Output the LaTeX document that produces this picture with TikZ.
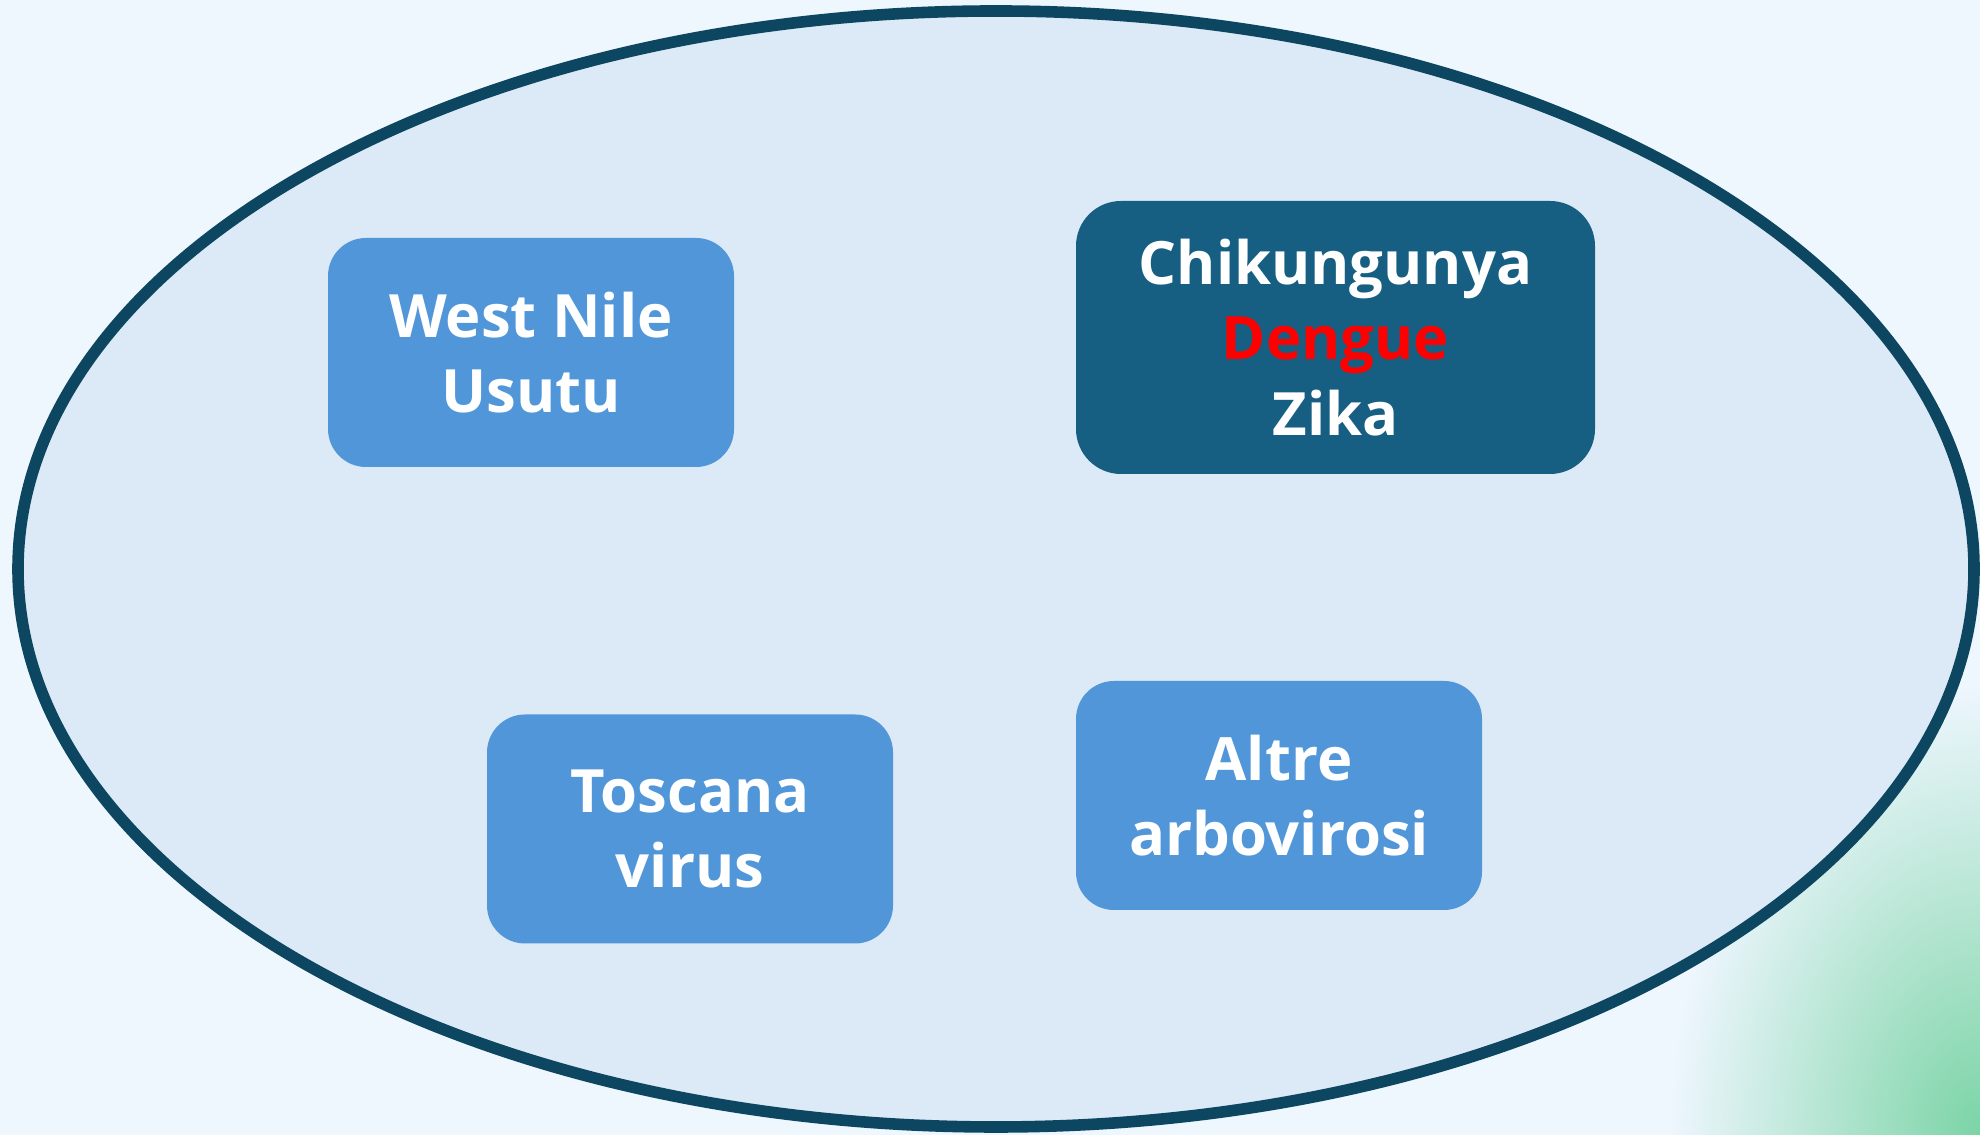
\documentclass[tikz,border=0pt]{standalone}
\usepackage{fontspec}
\setmainfont{Open Sans}
\definecolor{pagebg}{HTML}{EEF6FE}
\definecolor{ringfill}{HTML}{DCE9F6}
\definecolor{ringline}{HTML}{0D4660}
\definecolor{lightbox}{HTML}{5096D9}
\definecolor{darkbox}{HTML}{175F82}
\definecolor{cornergreen}{HTML}{7BD4A6}
\begin{document}
\begin{tikzpicture}[
    virusbox/.style={fill=lightbox, rounded corners=0.38cm, minimum width=4.06cm, minimum height=2.29cm,
      text=white, align=center, font=\fontsize{17}{21.5}\selectfont\bfseries},
    mainbox/.style={virusbox, fill=darkbox, rounded corners=0.45cm, minimum width=5.19cm, minimum height=2.73cm}
  ]
      \useasboundingbox (0,0) rectangle (19.8,11.35);
      \fill[pagebg] (0,0) rectangle (19.8,11.35);
      \begin{scope}
        \clip (0,0) rectangle (19.8,11.35);
        \shade[inner color=cornergreen, outer color=pagebg] (19.8,0) ellipse (3.1 and 4.5);
      \end{scope}
      \draw[ringline, fill=ringfill, line width=3.3pt] (9.96,5.66) ellipse (9.78 and 5.58);
      \node[virusbox] (wnv) at (5.31,7.825) {West Nile\\Usutu};
      \node[mainbox] (aedes) at (13.355,7.975) {Chikungunya\\\textcolor{red}{Dengue}\\Zika};
      \node[virusbox] (tosv) at (6.90,3.06) {Toscana\\virus};
      \node[virusbox] (altre) at (12.79,3.395) {Altre\\arbovirosi};
\end{tikzpicture}
\end{document}
